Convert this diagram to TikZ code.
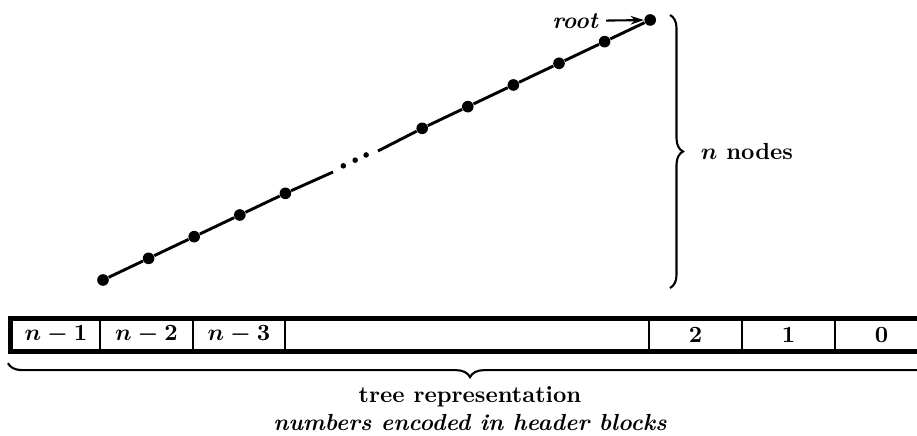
\documentclass[tikz,border=0pt]{standalone}
\usepackage{amsmath,amssymb}
\usepackage{tikz}
\usetikzlibrary{arrows.meta,positioning,fit,decorations.pathreplacing}

\begin{document}
\begin{tikzpicture}[
  x=0.43pt, y=-0.43pt,
  font=\bfseries,
  >={Stealth[length=2mm,width=1.3mm]},
  treenode/.style={circle, fill=black, inner sep=0pt, minimum size=5pt},
  elldot/.style={circle, fill=black, inner sep=0pt, minimum size=2.4pt},
  treeline/.style={line width=1.25pt},
  cell/.style={
    rectangle, draw, line width=1.25pt, minimum height=12.9pt,
    inner sep=0pt, outer sep=0pt, font=\bfseries\boldmath},
  blockframe/.style={rectangle, draw, line width=1.3pt, inner sep=1.1pt},
  bracedec/.style={decorate, decoration={brace, amplitude=#1}, line width=0.9pt},
  lbl/.style={font=\bfseries\itshape},
]

\clip (0,0) rectangle (917,435);

% ---- Tree (a path of n nodes) ----
\foreach \i in {0,...,4,7,8,...,12}
  \node[treenode] (d\i) at ({103+45.6*\i},{280-21.67*\i}) {};
\coordinate (gapL) at (333,172);
\coordinate (gapR) at (378,151);
\foreach \i/\j in {0/1,1/2,2/3,3/4,7/8,8/9,9/10,10/11,11/12}
  \draw[treeline] (d\i) -- (d\j);
\draw[treeline] (d4) -- (gapL);
\draw[treeline] (gapR) -- (d7);
\foreach \t [count=\k] in {0.27,0.53,0.77}
  \node[elldot] (e\k) at ({103+45.6*(5+\t)},{280-21.67*(5+\t)}) {};

% ---- Root label ----
\node[lbl, anchor=east] (rootlbl) at (606,21) {root};
\draw[->, line width=0.9pt] (rootlbl) -- (d12);

% ---- Height brace ----
\coordinate (btop) at (670,15);
\coordinate (bbot) at (670,288);
\draw[bracedec=5.6pt] (btop) -- (bbot)
  node[midway, right=9.5pt] (nlbl) {{\boldmath$n$} nodes};

% ---- Header blocks ----
\node[cell, minimum width=88*0.43pt, anchor=west] (c1) at (12,335) {$n-1$};
\node[cell, minimum width=93*0.43pt, right=0pt of c1] (c2) {$n-2$};
\node[cell, minimum width=92*0.43pt, right=0pt of c2] (c3) {$n-3$};
\node[cell, minimum width=364*0.43pt, right=0pt of c3] (c4) {};
\node[cell, minimum width=93*0.43pt, right=0pt of c4] (c5) {2};
\node[cell, minimum width=93*0.43pt, right=0pt of c5] (c6) {1};
\node[cell, minimum width=93*0.43pt, right=0pt of c6] (c7) {0};
\node[blockframe, fit=(c1)(c7)] (hdr) {};

% ---- Representation brace ----
\draw[bracedec=6pt] ([yshift=-3.9pt]hdr.south east) -- ([yshift=-3.9pt]hdr.south west)
  node[midway, below=6.5pt, align=center] (caption)
  {tree representation\\\textit{numbers encoded in header blocks}};

\end{tikzpicture}
\end{document}
